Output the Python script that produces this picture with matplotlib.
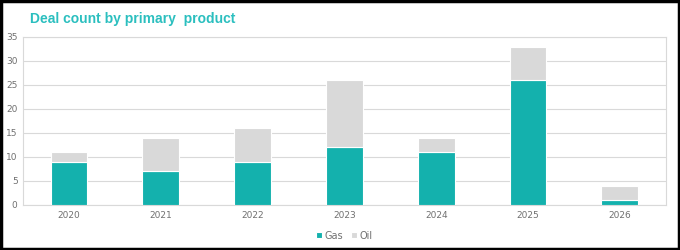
import matplotlib.pyplot as plt
from matplotlib.patches import Rectangle

years = ['2020', '2021', '2022', '2023', '2024', '2025', '2026']
gas = [9, 7, 9, 12, 11, 26, 1]
oil = [2, 7, 7, 14, 3, 7, 3]

teal = '#14B1AD'
grey = '#D9D9D9'

fig = plt.figure(figsize=(6.8, 2.5), dpi=100)
ax = fig.add_axes([0.034, 0.18, 0.945, 0.672])

x = range(len(years))
ax.bar(x, gas, width=0.4, color=teal, edgecolor='white', linewidth=0.8, label='Gas', zorder=3)
ax.bar(x, oil, width=0.4, bottom=gas, color=grey, edgecolor='white', linewidth=0.8, label='Oil', zorder=3)

ax.set_xlim(-0.5, 6.5)
ax.set_ylim(0, 35)
ax.set_yticks(range(0, 36, 5))
ax.set_xticks(list(x))
ax.set_xticklabels(years)
ax.grid(axis='y', color='#D9D9D9', linewidth=0.8, zorder=0)
for s in ax.spines.values():
    s.set_color('#D9D9D9')
ax.tick_params(length=0, labelsize=6.5, colors='#707070', pad=4)

ax.legend(loc='upper center', bbox_to_anchor=(0.5, -0.1), ncol=2, frameon=False,
          fontsize=7, handlelength=0.6, handleheight=0.6, handletextpad=0.3,
          columnspacing=0.8, labelcolor='#707070')

fig.text(0.044, 0.925, 'Deal count by primary  product', color='#2BBFBF', fontsize=10,
         fontweight='bold', va='center', family='Liberation Sans')

fig.patches.append(Rectangle((0.002, 0.004), 0.996, 0.992, transform=fig.transFigure,
                             fill=False, edgecolor='black', linewidth=2.5))

fig.savefig('out.png', dpi=100)
